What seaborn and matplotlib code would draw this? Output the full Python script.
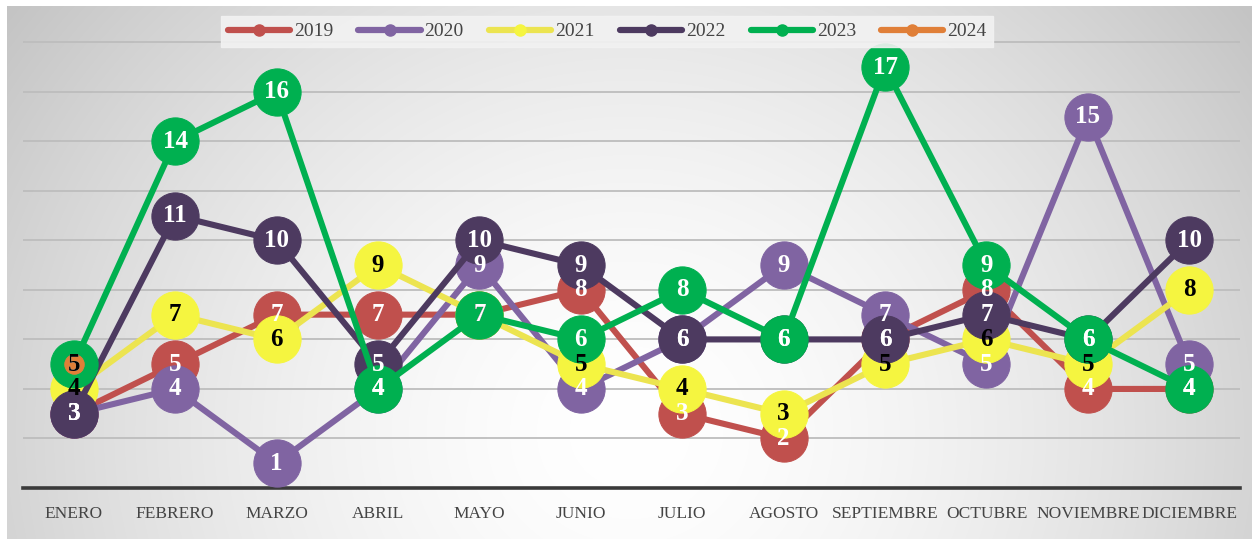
import numpy as np
import pandas as pd
import matplotlib
matplotlib.use("Agg")
import matplotlib.pyplot as plt
import seaborn as sns
from matplotlib.lines import Line2D

months = ["ENERO", "FEBRERO", "MARZO", "ABRIL", "MAYO", "JUNIO", "JULIO",
          "AGOSTO", "SEPTIEMBRE", "OCTUBRE", "NOVIEMBRE", "DICIEMBRE"]
v2019 = [3, 5, 7, 7, 7, 8, 3, 2, 6, 8, 4, 4]
v2020 = [3, 4, 1, 4, 9, 4, 6, 9, 7, 5, 15, 5]
v2021 = [4, 7, 6, 9, 7, 5, 4, 3, 5, 6, 5, 8]
v2022 = [3, 11, 10, 5, 10, 9, 6, 6, 6, 7, 6, 10]
v2023 = [5, 14, 16, 4, 7, 6, 8, 6, 17, 9, 6, 4]
v2024 = [5]

series = [
    ("2019", v2019, "#C0504D", "#C0504D", "white", 34),
    ("2020", v2020, "#8064A2", "#8064A2", "white", 34),
    ("2021", v2021, "#ECE450", "#F5F540", "black", 34),
    ("2022", v2022, "#4D3A60", "#4D3A60", "white", 34),
    ("2023", v2023, "#00B050", "#00B050", "white", 34),
    ("2024", v2024, "#E07F38", "#E07F38", "black", 14),
]

sns.set_theme(style="white")
plt.rcParams['font.family'] = ['Liberation Serif', 'DejaVu Serif']

W, H = 1252, 539
fig = plt.figure(figsize=(W / 100, H / 100), dpi=100, facecolor="white")

# radial gradient background (chart area, white margin top/left)
bx0, by0 = 7, 6
bg = fig.add_axes([bx0 / W, 0, 1 - bx0 / W, 1 - by0 / H], zorder=-10)
hh, ww = H - by0, W - bx0
yy, xx = np.mgrid[0:hh, 0:ww]
cx, cy = ww * 0.50, hh * 0.80
r = np.sqrt(((xx - cx) / (ww * 0.60)) ** 2 + ((yy - cy) / (hh * 1.3)) ** 2)
val = 1.0 - 0.22 * np.clip(r, 0, 1.2) ** 1.6
bg.imshow(np.dstack([val, val, val]), aspect="auto", extent=[0, 1, 0, 1], vmin=0, vmax=1)
bg.axis("off")

ax = fig.add_axes([23 / W, 1 - 488 / H, (1240 - 23) / W, (488 - 15) / H])
ax.set_facecolor("none")
ax.patch.set_alpha(0)

x_all = np.arange(len(months))
for name, vals, lc, mc, tc, ms in series:
    df = pd.DataFrame({"x": x_all[:len(vals)], "y": vals})
    sns.lineplot(data=df, x="x", y="y", ax=ax, color=lc, linewidth=4.4,
                 marker="o", markersize=ms, markerfacecolor=mc,
                 markeredgecolor=mc, label=name, zorder=3, legend=False)
    for xi, yi in zip(df["x"], df["y"]):
        ax.text(xi, yi, str(yi), ha="center", va="center", color=tc,
                fontsize=18, fontweight="bold", zorder=5,
                family=["Liberation Serif"])

ax.set_xlim(-0.5, 11.5)
ax.set_ylim(0, 19.1)
ax.set_yticks(np.arange(2, 19, 2))
ax.yaxis.grid(True, color="#BDBDBD", linewidth=1.3, zorder=0)
ax.set_axisbelow(True)
ax.tick_params(axis="y", left=False, labelleft=False)
ax.set_xticks(x_all)
ax.set_xticklabels(months, fontsize=12.5, color="#444444", family=["Liberation Serif"])
ax.tick_params(axis="x", length=0, pad=13)
for s in ["top", "left", "right"]:
    ax.spines[s].set_visible(False)
ax.spines["bottom"].set_color("#3A3A3A")
ax.spines["bottom"].set_linewidth(2.6)
ax.set_xlabel("")
ax.set_ylabel("")

# legend
handles = [Line2D([0], [0], color=lc, linewidth=4.5, marker="o", markersize=8,
                  markerfacecolor=mc, markeredgecolor=mc) for _, _, lc, mc, _, _ in series]
labels = [s[0] for s in series]
leg = ax.legend(handles, labels, loc="upper center", bbox_to_anchor=(0.48, 1.0),
                ncol=6, frameon=True, handlelength=3.2, borderaxespad=0.05,
                columnspacing=1.3, handletextpad=0.2, borderpad=0.35,
                prop={"family": "Liberation Serif", "size": 14})
leg.get_frame().set_facecolor("#F2F2F2")
leg.get_frame().set_edgecolor("#F2F2F2")
leg.get_frame().set_alpha(0.9)
leg.get_frame().set_boxstyle("square", pad=0.0)
for t in leg.get_texts():
    t.set_color("#444444")
leg.set_zorder(10)

fig.savefig("out.png", dpi=100, facecolor="white")
